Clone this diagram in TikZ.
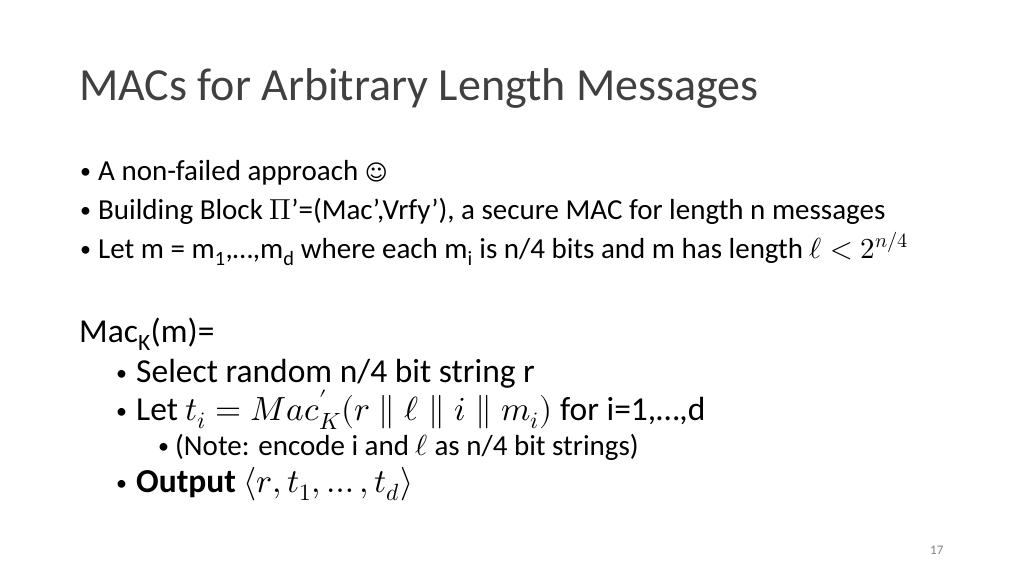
\documentclass[tikz,border=0pt]{standalone}
\usepackage{fontspec}
\usepackage{unicode-math}
\setmainfont{Carlito}
\setmathfont{Latin Modern Math}
\newfontfamily\symfont{DejaVu Sans}
\usetikzlibrary{positioning}
\definecolor{titlegray}{RGB}{64,64,64}
\begin{document}
\begin{tikzpicture}[x=1pt,y=-1pt,
    txt/.style={anchor=base west, inner sep=0pt},
    dot/.style={txt, font=\fontsize{22}{26}\selectfont},
    title/.style={txt, font=\fontsize{46}{50}\selectfont, text=titlegray},
    lvla/.style={txt, font=\fontsize{29}{33}\selectfont},
    lvlb/.style={txt, font=\fontsize{33.5}{38}\selectfont},
    lvlc/.style={txt, font=\fontsize{29}{33}\selectfont}
  ]
  \useasboundingbox[fill=white] (0,0) rectangle (1024,576);
  \node[title] (heading) at (79,100) {MACs for Arbitrary Length Messages};
  % first level bullets
  \node[dot] (dota) at (80,178) {•};
  \node[lvla] (itema) at (98,180) {A non-failed approach {\symfont\fontsize{22}{26}\selectfont ☺}};
  \node[dot] (dotb) at (80,217) {•};
  \node[lvla] (itemb) at (98,219) {Building Block $\Pi$’=(Mac’,Vrfy’), a secure MAC for length n messages};
  \node[dot] (dotc) at (80,256) {•};
  \node[lvla] (itemc) at (98,258) {Let m = m\textsubscript{1},…,m\textsubscript{d} where each m\textsubscript{i} is n/4 bits and m has length $\ell<2^{n/4}$};
  % construction
  \node[lvlb] (mack) at (79,342) {Mac\textsubscript{K}(m)=};
  \node[dot] (dotd) at (116,380) {•};
  \node[lvlb] (itemd) at (136,382) {Select random n/4 bit string r};
  \node[dot] (dote) at (116,418) {•};
  \node[lvlb] (iteme) at (136,420) {Let $t_i = Mac'_K(r \parallel \ell \parallel i \parallel m_i)$ for i=1,…,d};
  \node[dot] (dotf) at (158,453) {•};
  \node[lvlc] (itemf) at (175,455) {(Note: encode i and $\ell$ as n/4 bit strings)};
  \node[dot] (dotg) at (116,490) {•};
  \node[lvlb] (itemg) at (136,492) {\textbf{Output} $\langle r, t_1, \dots, t_d\rangle$};
  \node[txt, font=\fontsize{13}{15}\selectfont, text=gray] (pagenum) at (930,554) {17};
\end{tikzpicture}
\end{document}
